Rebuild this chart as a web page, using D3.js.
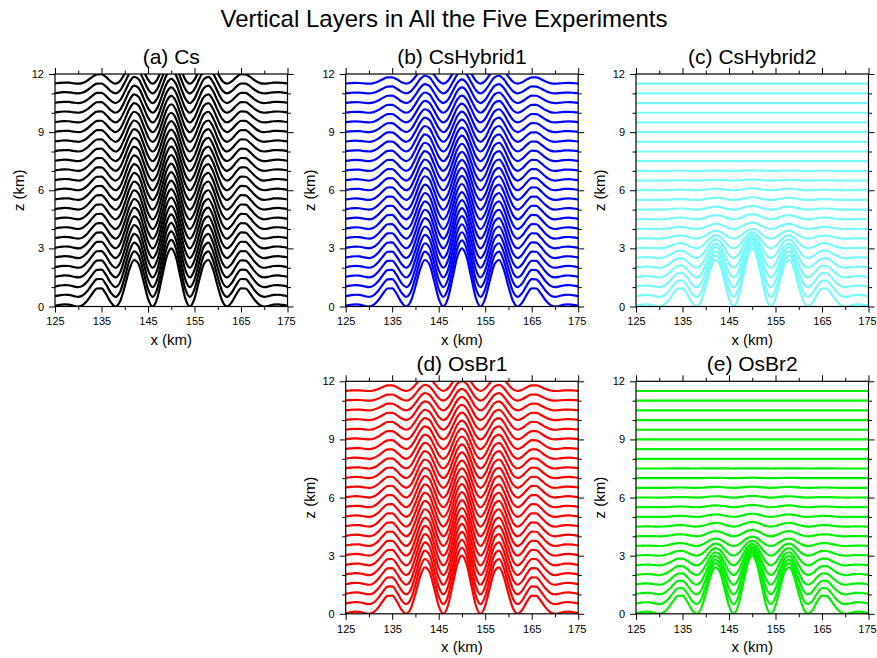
<!DOCTYPE html>
<html>
<head>
<meta charset="utf-8">
<script src="https://cdn.jsdelivr.net/npm/d3@7"></script>
<style>
  body { margin: 0; background: #fff; }
  svg text { font-family: "Liberation Sans", Arial, Helvetica, sans-serif; fill: #000; }
</style>
</head>
<body>
<div id="chart"></div>
<script>
const xStart = 125, xStep = 1;
const terrain = [
  0.03, 0.08, 0.11, 0.10, 0.04, 0.00, 0.08, 0.32, 0.66, 0.93,
  0.94, 0.64, 0.22, 0.00, 0.27, 1.03, 1.91, 2.40, 2.18, 1.34,
  0.41, 0.00, 0.43, 1.49, 2.56, 3.00, 2.56, 1.49, 0.43, 0.00,
  0.41, 1.34, 2.18, 2.40, 1.91, 1.03, 0.27, 0.00, 0.22, 0.64,
  0.94, 0.93, 0.66, 0.32, 0.08, 0.00, 0.04, 0.10, 0.11, 0.08, 0.03
];

// undisturbed heights of the coordinate surfaces (km)
const levels = [0, 0.5, 1, 1.5, 2, 2.5, 3, 3.5, 4, 4.5, 5, 5.5,
                6, 6.5, 7, 7.5, 8, 8.5, 9, 9.5, 10, 10.5, 11, 11.5];

// fraction of the terrain felt by each surface, per experiment
const decayCs = [1, .979, .958, .938, .917, .896, .875, .854, .833, .813, .792, .771,
                 .75, .729, .708, .688, .667, .646, .625, .604, .583, .563, .542, .521];
const decayCsHybrid1 = [1, .972, .944, .915, .887, .859, .831, .802, .774, .746, .718, .689,
                        .661, .633, .605, .576, .548, .52, .492, .463, .435, .407, .379, .35];
const decayCsHybrid2 = [1, .89, .77, .65, .52, .40, .28, .17, .11, .09, .063, .046,
                        .033, .018, .008, .003, 0, 0, 0, 0, 0, 0, 0, 0];
const decayOsBr1 = [1, .97, .94, .91, .88, .85, .82, .79, .76, .73, .70, .67,
                    .64, .61, .58, .55, .52, .49, .46, .43, .40, .37, .34, .31];
const decayOsBr2 = [1, .88, .75, .62, .49, .37, .26, .16, .11, .08, .055, .04,
                    .028, .02, .008, .003, 0, 0, 0, 0, 0, 0, 0, 0];

const xMajor = [125, 135, 145, 155, 165, 175];
const xMinor = [130, 140, 150, 160, 170];
const zMajor = [0, 3, 6, 9, 12];
const zMinor = [1, 2, 4, 5, 7, 8, 10, 11];

const panels = [
  { title: "(a) Cs",        color: "#000000", decay: decayCs,        left: 55,    top: 74 },
  { title: "(b) CsHybrid1", color: "#0000ff", decay: decayCsHybrid1, left: 345.7, top: 74 },
  { title: "(c) CsHybrid2", color: "#78fafa", decay: decayCsHybrid2, left: 636,   top: 74 },
  { title: "(d) OsBr1",     color: "#ff0000", decay: decayOsBr1,     left: 345.7, top: 381.3 },
  { title: "(e) OsBr2",     color: "#00f000", decay: decayOsBr2,     left: 636,   top: 381.3 }
];

const size = 232.5;
const font = '"Liberation Sans", Arial, Helvetica, sans-serif';

const svg = d3.select("#chart")
  .append("svg")
  .attr("width", 877)
  .attr("height", 658);

svg.append("text")
  .attr("x", 444)
  .attr("y", 27)
  .attr("text-anchor", "middle")
  .style("font-size", "24px")
  .text("Vertical Layers in All the Five Experiments");

const xs = terrain.map((_, i) => xStart + i * xStep);

panels.forEach((p, pi) => {
  const g = svg.append("g").attr("transform", `translate(${p.left},${p.top})`);

  const x = d3.scaleLinear().domain([125, 175]).range([0, size]);
  const y = d3.scaleLinear().domain([0, 12]).range([size, 0]);

  g.append("clipPath").attr("id", "clip" + pi)
    .append("rect").attr("width", size).attr("height", size);

  const line = d3.line()
    .x(d => x(d[0]))
    .y(d => y(d[1]))
    .curve(d3.curveMonotoneX);

  const layers = levels.map((eta, k) => xs.map((xv, i) => [xv, eta + p.decay[k] * terrain[i]]));

  g.append("g")
    .attr("clip-path", `url(#clip${pi})`)
    .selectAll("path")
    .data(layers)
    .join("path")
    .attr("d", line)
    .attr("fill", "none")
    .attr("stroke", p.color)
    .attr("stroke-width", 2.2);

  // tick marks, all pointing outward
  const axisStyle = sel => {
    sel.select(".domain").remove();
    sel.selectAll("line").attr("stroke", "#000").attr("stroke-width", 1);
    sel.attr("font-family", font).attr("font-size", 11);
  };

  g.append("g").attr("transform", `translate(0,${size})`)
    .call(d3.axisBottom(x).tickValues(xMajor).tickSize(6).tickPadding(5).tickFormat(d3.format("d")))
    .call(axisStyle)
    .selectAll("text")
    .filter(d => d === 175)
    .attr("dx", "-1.5px");
  g.append("g").attr("transform", `translate(0,${size})`)
    .call(d3.axisBottom(x).tickValues(xMinor).tickSize(3.5).tickFormat(""))
    .call(axisStyle);
  g.append("g")
    .call(d3.axisTop(x).tickValues(xMajor).tickSize(6).tickFormat(""))
    .call(axisStyle);
  g.append("g")
    .call(d3.axisTop(x).tickValues(xMinor).tickSize(3.5).tickFormat(""))
    .call(axisStyle);

  g.append("g")
    .call(d3.axisLeft(y).tickValues(zMajor).tickSize(6).tickPadding(5).tickFormat(d3.format("d")))
    .call(axisStyle);
  g.append("g")
    .call(d3.axisLeft(y).tickValues(zMinor).tickSize(3.5).tickFormat(""))
    .call(axisStyle);
  g.append("g").attr("transform", `translate(${size},0)`)
    .call(d3.axisRight(y).tickValues(zMajor).tickSize(6).tickFormat(""))
    .call(axisStyle);
  g.append("g").attr("transform", `translate(${size},0)`)
    .call(d3.axisRight(y).tickValues(zMinor).tickSize(3.5).tickFormat(""))
    .call(axisStyle);

  g.append("rect")
    .attr("width", size)
    .attr("height", size)
    .attr("fill", "none")
    .attr("stroke", "#000")
    .attr("stroke-width", 1.2);

  g.append("text")
    .attr("x", size / 2)
    .attr("y", -10)
    .attr("text-anchor", "middle")
    .style("font-size", "21px")
    .text(p.title);

  g.append("text")
    .attr("x", size / 2)
    .attr("y", size + 38)
    .attr("text-anchor", "middle")
    .style("font-size", "15px")
    .text("x (km)");

  g.append("text")
    .attr("transform", "rotate(-90)")
    .attr("x", -size / 2)
    .attr("y", -31)
    .attr("text-anchor", "middle")
    .style("font-size", "15px")
    .text("z (km)");
});
</script>
</body>
</html>
